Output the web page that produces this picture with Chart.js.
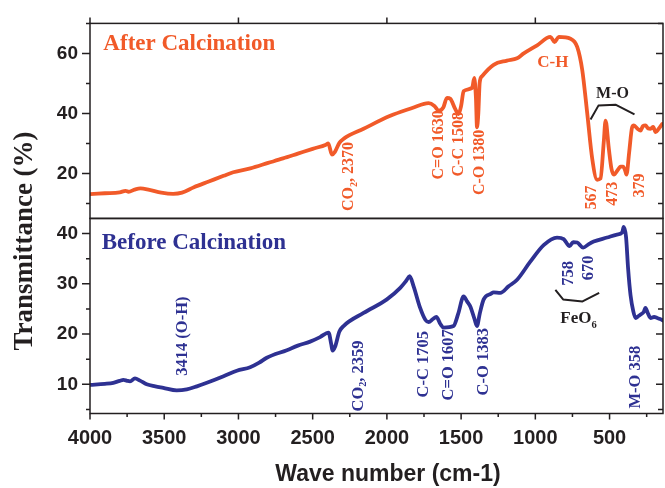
<!DOCTYPE html>
<html>
<head>
<meta charset="utf-8">
<script src="https://cdn.jsdelivr.net/npm/chart.js@4.4.1/dist/chart.umd.min.js"></script>
<style>
  html, body { margin: 0; padding: 0; background: #fff; }
</style>
</head>
<body>
<canvas id="ftirChart" width="665" height="488"></canvas>
<script>
// FTIR spectra: wavenumber (cm-1) and transmittance (%)
const afterWave = [4000, 3900, 3800, 3760, 3740, 3700, 3660, 3600, 3520, 3440, 3380, 3300, 3200, 3100, 3035,
  2920, 2800, 2700, 2600, 2500, 2410, 2395, 2370, 2350, 2320, 2290, 2157, 1977, 1820, 1750, 1719, 1680,
  1651, 1620, 1595, 1573, 1540, 1517, 1500, 1483, 1426, 1411, 1400, 1393, 1384, 1375, 1359, 1281, 1191,
  1123, 1078, 988, 898, 871, 842, 763, 718, 684, 651, 617, 584, 561, 539, 527, 505, 487, 471, 440, 426,
  409, 395, 386, 368, 348, 336, 310, 291, 275, 258, 240, 224, 206, 190, 170, 145];
const afterT = [13.1, 13.4, 13.7, 14.2, 13.9, 14.6, 15.0, 14.5, 13.6, 13.2, 13.6, 15.4, 17.3, 19.2, 20.4,
  21.7, 23.5, 25.0, 26.6, 28.2, 29.6, 30.0, 26.3, 27.2, 30.2, 31.6, 34.9, 39.2, 42.0, 43.2, 43.4, 42.5,
  40.9, 42.0, 45.2, 44.9, 41.5, 39.8, 42.5, 47.4, 48.5, 51.8, 45.0, 35.4, 40.0, 50.2, 52.4, 56.2, 57.6,
  58.4, 60.0, 62.7, 65.5, 63.8, 65.5, 64.9, 62.2, 54.5, 40.3, 25.0, 17.9, 18.3, 30.5, 37.6, 28.3, 21.5,
  19.6, 21.5, 22.3, 22.3, 21.0, 19.6, 27.0, 35.4, 36.0, 34.8, 34.3, 35.8, 36.0, 35.0, 34.9, 35.5, 33.8,
  34.8, 36.5];

const beforeWave = [4000, 3900, 3843, 3800, 3775, 3750, 3730, 3697, 3663, 3618, 3560, 3506, 3416, 3348,
  3280, 3213, 3100, 3011, 2921, 2860, 2809, 2674, 2600, 2517, 2450, 2393, 2375, 2366, 2350, 2320, 2292,
  2157, 2000, 1910, 1870, 1847, 1820, 1776, 1740, 1719, 1690, 1667, 1640, 1618, 1551, 1520, 1483, 1460,
  1438, 1410, 1393, 1375, 1348, 1300, 1281, 1236, 1180, 1123, 1034, 944, 854, 809, 769, 745, 718, 678,
  640, 607, 517, 450, 415, 405, 389, 375, 359, 340, 325, 305, 291, 270, 258, 240, 224, 200, 179, 160, 139];
const beforeT = [9.9, 10.1, 10.3, 10.7, 10.9, 10.7, 10.6, 11.2, 10.75, 10.0, 9.6, 9.3, 8.8, 9.0,
  9.6, 10.3, 11.6, 12.7, 13.4, 14.3, 15.3, 16.8, 17.7, 18.5, 19.4, 20.3, 18.0, 16.7, 17.4, 20.5, 21.6,
  24.2, 26.9, 29.2, 30.6, 31.5, 29.5, 25.2, 22.8, 22.4, 23.0, 23.4, 22.0, 21.3, 21.6, 24.0, 27.5, 26.5,
  25.5, 23.0, 21.6, 24.0, 26.9, 28.0, 28.3, 28.2, 29.5, 30.8, 34.4, 37.7, 39.2, 38.9, 37.5, 38.3, 38.2, 37.2,
  37.9, 38.4, 39.2, 39.8, 40.2, 41.3, 39.3, 33.0, 27.8, 24.5, 23.2, 23.6, 23.9, 24.4, 25.2, 24.0, 23.2, 23.4,
  23.2, 23.0, 22.7];

// tick positions; labelled ones are listed separately
const waveTicks = [4000, 3500, 3000, 2500, 2000, 1500, 1000, 500];
const topTicks = [10, 20, 30, 40, 50, 60, 70];
const topTickLabels = [20, 40, 60];
const bottomTicks = [5, 10, 15, 20, 25, 30, 35, 40];
const bottomTickLabels = [10, 20, 30, 40];

// band assignments: text ("_n" = subscript), wavenumber and transmittance where the label sits
const afterNotes = [
  { text: 'CO_2, 2370', wave: 2254, t: 7.5, rotate: true },
  { text: 'C=O 1630', wave: 1647, t: 18.0, rotate: true },
  { text: 'C-C 1508', wave: 1512, t: 19.0, rotate: true },
  { text: 'C-O 1380', wave: 1377, t: 12.8, rotate: true },
  { text: '567', wave: 622, t: 8.0, rotate: true },
  { text: '473', wave: 480, t: 9.2, rotate: true },
  { text: '379', wave: 298, t: 12.0, rotate: true },
  { text: 'C-H', wave: 882, t: 55.6, rotate: false }
];
const beforeNotes = [
  { text: '3414 (O-H)', wave: 3373, t: 11.7, rotate: true },
  { text: 'CO_2, 2359', wave: 2193, t: 4.6, rotate: true },
  { text: 'C-C 1705', wave: 1755, t: 7.4, rotate: true },
  { text: 'C=O 1607', wave: 1586, t: 6.8, rotate: true },
  { text: 'C-O 1383', wave: 1350, t: 7.8, rotate: true },
  { text: '758', wave: 777, t: 29.6, rotate: true },
  { text: '670', wave: 642, t: 30.7, rotate: true },
  { text: 'M-O 358', wave: 322, t: 5.2, rotate: true }
];
// bracket groups
const moBracketWave = [628, 575, 460, 332];
const moBracketT = [38.0, 42.6, 42.9, 39.7];
const feoBracketWave = [865, 813, 682, 570];
const feoBracketT = [28.8, 26.9, 26.5, 28.2];

const orange = '#F15A29';
const blue = '#2E3192';
const ink = '#231F20';
const serif = '"Liberation Serif", "Times New Roman", serif';
const sans = '"Liberation Sans", Arial, sans-serif';

function drawText(ctx, text, x, y, size, color, rotate, align) {
  const parts = [];
  text.split(/(_\d)/).forEach(p => {
    if (!p) return;
    if (p[0] === '_') parts.push({ s: p[1], sub: true });
    else parts.push({ s: p, sub: false });
  });
  const font = s => `bold ${s}px ${serif}`;
  ctx.save();
  ctx.translate(x, y);
  if (rotate) ctx.rotate(-Math.PI / 2);
  ctx.fillStyle = color;
  ctx.textAlign = 'left';
  ctx.textBaseline = rotate ? 'middle' : 'alphabetic';
  let total = 0;
  parts.forEach(p => {
    ctx.font = font(p.sub ? size * 0.62 : size);
    p.w = ctx.measureText(p.s).width;
    total += p.w;
  });
  let cx = align === 'center' ? -total / 2 : 0;
  parts.forEach(p => {
    ctx.font = font(p.sub ? size * 0.62 : size);
    ctx.fillText(p.s, cx, p.sub ? size * 0.32 : 0);
    cx += p.w;
  });
  ctx.restore();
}

// frame boxes and tick marks for both panels
const panelFrame = {
  id: 'panelFrame',
  afterDatasetsDraw(chart) {
    const { ctx, chartArea, scales } = chart;
    const xs = scales.x;
    ctx.save();
    ctx.strokeStyle = ink;
    ctx.lineWidth = 1.5;
    [scales.yTop, scales.yBot].forEach(s => {
      ctx.strokeRect(chartArea.left, s.top, chartArea.right - chartArea.left, s.bottom - s.top);
      ctx.beginPath();
      s.ticks.forEach(t => {
        const y = s.getPixelForValue(t.value);
        const major = t.label !== '';
        ctx.moveTo(chartArea.left - (major ? 8 : 4), y);
        ctx.lineTo(chartArea.left, y);
        ctx.moveTo(chartArea.right - (major ? 7 : 5), y);
        ctx.lineTo(chartArea.right, y);
      });
      ctx.stroke();
    });
    ctx.beginPath();
    for (let w = 250; w <= 4000; w += 250) {
      const x = xs.getPixelForValue(w);
      ctx.moveTo(x, chartArea.bottom);
      ctx.lineTo(x, chartArea.bottom + (w % 500 === 0 ? 6 : 3.5));
    }
    for (let w = 1000; w <= 4000; w += 1000) {
      const x = xs.getPixelForValue(w);
      ctx.moveTo(x, chartArea.top);
      ctx.lineTo(x, chartArea.top - 6);
    }
    ctx.stroke();
    ctx.restore();
  }
};

// labels, brackets and axis titles
const spectrumNotes = {
  id: 'spectrumNotes',
  afterDraw(chart) {
    const { ctx, scales } = chart;
    const xs = scales.x, yt = scales.yTop, yb = scales.yBot;

    drawText(ctx, 'After Calcination', xs.getPixelForValue(3910), yt.getPixelForValue(61.3), 23, orange, false, 'left');
    drawText(ctx, 'Before Calcination', xs.getPixelForValue(3921), yb.getPixelForValue(37.0), 23, blue, false, 'left');

    afterNotes.forEach(n => {
      drawText(ctx, n.text, xs.getPixelForValue(n.wave), yt.getPixelForValue(n.t),
        n.rotate ? 16 : 17, orange, n.rotate, n.rotate ? 'left' : 'center');
    });
    beforeNotes.forEach(n => {
      drawText(ctx, n.text, xs.getPixelForValue(n.wave), yb.getPixelForValue(n.t), 16.5, blue, n.rotate, 'left');
    });

    drawText(ctx, 'M-O', xs.getPixelForValue(480), yt.getPixelForValue(45.2), 16, ink, false, 'center');
    drawText(ctx, 'FeO_6', xs.getPixelForValue(709), yb.getPixelForValue(22.25), 17, ink, false, 'center');

    ctx.save();
    ctx.strokeStyle = ink;
    ctx.lineWidth = 2;
    ctx.lineJoin = 'round';
    [[moBracketWave, moBracketT, yt], [feoBracketWave, feoBracketT, yb]].forEach(([ws, ts, ys]) => {
      ctx.beginPath();
      ws.forEach((w, i) => {
        const x = xs.getPixelForValue(w), y = ys.getPixelForValue(ts[i]);
        if (i === 0) ctx.moveTo(x, y); else ctx.lineTo(x, y);
      });
      ctx.stroke();
    });
    ctx.restore();

    // axis titles
    ctx.save();
    ctx.fillStyle = ink;
    ctx.translate(25, 241);
    ctx.rotate(-Math.PI / 2);
    ctx.font = `bold 27px ${serif}`;
    ctx.textAlign = 'center';
    ctx.textBaseline = 'middle';
    ctx.fillText('Transmittance (%)', 0, 0);
    ctx.restore();

    ctx.save();
    ctx.fillStyle = ink;
    ctx.font = `bold 23px ${sans}`;
    ctx.textAlign = 'center';
    ctx.textBaseline = 'alphabetic';
    ctx.fillText('Wave number (cm-1)', 388, 481);
    ctx.restore();
  }
};

const tickFont = { family: sans, weight: 'bold', size: 19 };
const setTicks = values => scale => { scale.ticks = values.map(v => ({ value: v })); };
const labelFrom = list => v => (list.includes(v) ? String(v) : '');

new Chart(document.getElementById('ftirChart'), {
  type: 'line',
  data: {
    datasets: [
      {
        label: 'After Calcination',
        data: afterWave.map((w, i) => ({ x: w, y: afterT[i] })),
        yAxisID: 'yTop',
        borderColor: orange,
        borderWidth: 3.8,
        pointRadius: 0,
        cubicInterpolationMode: 'monotone',
        borderJoinStyle: 'round',
        borderCapStyle: 'round'
      },
      {
        label: 'Before Calcination',
        data: beforeWave.map((w, i) => ({ x: w, y: beforeT[i] })),
        yAxisID: 'yBot',
        borderColor: blue,
        borderWidth: 3.8,
        pointRadius: 0,
        cubicInterpolationMode: 'monotone',
        borderJoinStyle: 'round',
        borderCapStyle: 'round'
      }
    ]
  },
  options: {
    responsive: false,
    animation: false,
    events: [],
    layout: { padding: { top: 20, right: 2, left: 0, bottom: 0 } },
    plugins: { legend: { display: false }, tooltip: { enabled: false } },
    scales: {
      x: {
        type: 'linear',
        reverse: true,
        min: 140,
        max: 4000,
        grid: { display: false, drawTicks: false },
        border: { display: false },
        afterBuildTicks: setTicks(waveTicks),
        ticks: { padding: 13, autoSkip: false, maxRotation: 0, color: ink,
          font: { family: sans, weight: 'bold', size: 20 }, callback: v => String(v) },
        afterFit: s => { s.height = 74.5; }
      },
      yBot: {
        type: 'linear',
        position: 'left',
        stack: 'panels',
        stackWeight: 1,
        min: 4.2,
        max: 43,
        grid: { display: false, drawTicks: false },
        border: { display: false },
        afterBuildTicks: setTicks(bottomTicks),
        ticks: { padding: 12, autoSkip: false, color: ink, font: tickFont, callback: labelFrom(bottomTickLabels) },
        afterFit: s => { s.width = 90; }
      },
      yTop: {
        type: 'linear',
        position: 'left',
        stack: 'panels',
        stackWeight: 1,
        min: 5,
        max: 70,
        grid: { display: false, drawTicks: false },
        border: { display: false },
        afterBuildTicks: setTicks(topTicks),
        ticks: { padding: 12, autoSkip: false, color: ink, font: tickFont, callback: labelFrom(topTickLabels) },
        afterFit: s => { s.width = 90; }
      }
    }
  },
  plugins: [panelFrame, spectrumNotes]
});
</script>
</body>
</html>
